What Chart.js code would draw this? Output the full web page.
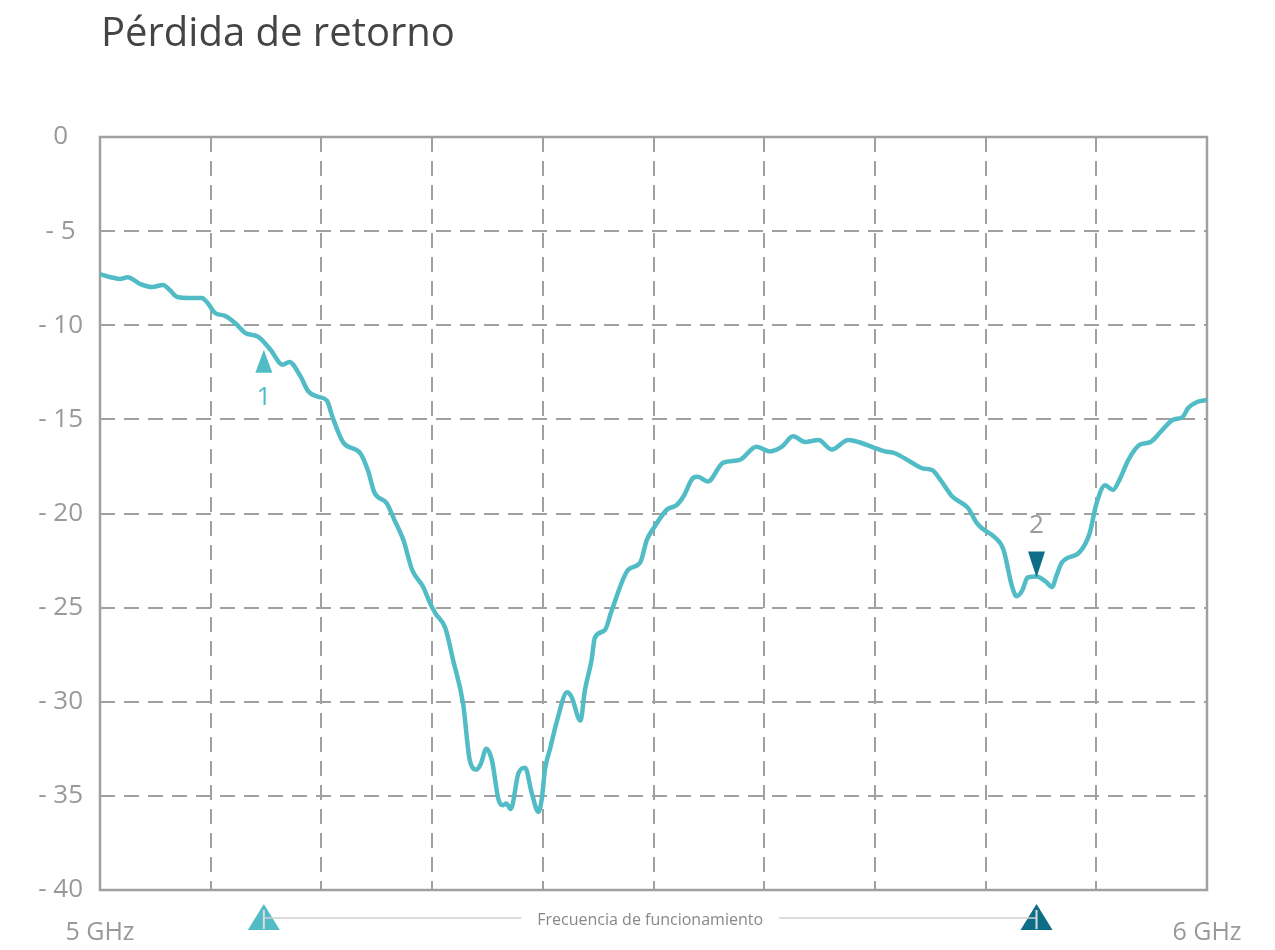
<!DOCTYPE html>
<html>
<head>
<meta charset="utf-8">
<title>Pérdida de retorno</title>
<script src="https://cdn.jsdelivr.net/npm/chart.js@4.4.0/dist/chart.umd.min.js"></script>
<style>
  html, body { margin: 0; padding: 0; background: #fff; }
  #wrap { position: relative; width: 1275px; height: 950px; }
</style>
</head>
<body>
<div id="wrap"><canvas id="chart" width="1275" height="950"></canvas></div>
<script>
// frequency in MHz, return loss in dB
const freqMHz = [
  5000, 5009, 5018, 5025, 5036, 5047, 5057, 5063, 5070, 5081, 5092, 5097, 5104, 5113, 5122,
  5131, 5143, 5154, 5165, 5171, 5181, 5188, 5197, 5205, 5210, 5220, 5235, 5242, 5248, 5259,
  5266, 5274, 5282, 5292, 5298, 5303, 5312, 5319, 5328, 5334, 5340, 5344, 5349, 5354, 5360,
  5364, 5367, 5371, 5378, 5384, 5390, 5396, 5399, 5402, 5407, 5413, 5422, 5426, 5434, 5438,
  5444, 5447, 5456, 5462, 5477, 5488, 5494, 5501, 5512, 5521, 5527, 5536, 5540, 5549, 5563,
  5578, 5593, 5605, 5616, 5626, 5637, 5649, 5661, 5676, 5685, 5699, 5709, 5718, 5732, 5743,
  5752, 5759, 5770, 5784, 5792, 5797, 5808, 5816, 5824, 5828, 5833, 5838, 5846, 5854, 5860,
  5864, 5869, 5885, 5894, 5900, 5908, 5915, 5921, 5929, 5939, 5949, 5958, 5969, 5978, 5983,
  5991, 6000
];
const returnLoss = [
  -7.28, -7.44, -7.54, -7.45, -7.8, -7.97, -7.86, -8.13, -8.5, -8.55, -8.55, -8.8, -9.35, -9.5, -9.88,
  -10.4, -10.62, -11.3, -12.1, -11.95, -12.7, -13.5, -13.8, -14.0, -14.87, -16.25, -16.79, -17.7, -18.9, -19.45,
  -20.35, -21.4, -23.0, -23.9, -24.75, -25.3, -26.1, -27.8, -30.1, -33.1, -33.6, -33.3, -32.5, -33.1, -35.2,
  -35.5, -35.4, -35.7, -33.8, -33.5, -34.85, -35.85, -35.2, -33.6, -32.4, -30.97, -29.5, -29.75, -31.0, -29.4,
  -27.8, -26.6, -26.2, -25.2, -23.0, -22.6, -21.4, -20.7, -19.8, -19.55, -19.1, -18.1, -18.05, -18.3, -17.3,
  -17.15, -16.45, -16.7, -16.45, -15.9, -16.2, -16.1, -16.6, -16.1, -16.2, -16.5, -16.7, -16.8, -17.25, -17.6,
  -17.7, -18.2, -19.1, -19.7, -20.5, -20.8, -21.25, -21.9, -23.9, -24.4, -24.1, -23.4, -23.35, -23.6, -23.9,
  -23.3, -22.6, -22.05, -21.05, -19.5, -18.5, -18.75, -18.2, -17.15, -16.36, -16.2, -15.67, -15.03, -14.87, -14.4,
  -14.08, -13.97
];

// operating band markers
const markerFreq = [5148, 5846];
const markerLevel = [-11.3, -23.4];
const markerLabels = ["1", "2"];

const xTickLabels = { 5000: "5 GHz", 6000: "6 GHz" };
const yTicks = [0, -5, -10, -15, -20, -25, -30, -35, -40];

const TITLE = "Pérdida de retorno";
const BAND_LABEL = "Frecuencia de funcionamiento";

const COLOR = {
  line: "#52bcc6",
  dark: "#0f6e87",
  grid: "#a0a0a0",
  text: "#999999",
  title: "#444444",
  band: "#cfcfcf",
};
const FONT = '"Open Sans", "Noto Sans", sans-serif';

const decorPlugin = {
  id: "decor",
  beforeDatasetsDraw(chart) {
    const { ctx, chartArea: a } = chart;
    ctx.save();
    ctx.strokeStyle = COLOR.grid;
    ctx.lineWidth = 2.5;
    ctx.strokeRect(a.left, a.top, a.right - a.left, a.bottom - a.top);
    ctx.restore();
  },
  afterDraw(chart) {
    const { ctx } = chart;
    const xs = chart.scales.x;
    const ys = chart.scales.y;
    ctx.save();

    // title
    ctx.fillStyle = COLOR.title;
    ctx.font = `40px ${FONT}`;
    ctx.textAlign = "left";
    ctx.textBaseline = "alphabetic";
    ctx.fillText(TITLE, 101, 46);

    // markers on the curve
    markerFreq.forEach((f, i) => {
      const px = xs.getPixelForValue(f);
      const py = ys.getPixelForValue(markerLevel[i]);
      const up = i === 0;
      ctx.beginPath();
      if (up) {
        ctx.moveTo(px, py);
        ctx.lineTo(px + 8.5, py + 23);
        ctx.lineTo(px - 8.5, py + 23);
      } else {
        ctx.moveTo(px, py);
        ctx.lineTo(px + 8.5, py - 26);
        ctx.lineTo(px - 8.5, py - 26);
      }
      ctx.closePath();
      ctx.fillStyle = up ? COLOR.line : COLOR.dark;
      ctx.fill();

      ctx.font = `26px ${FONT}`;
      ctx.textAlign = "center";
      ctx.textBaseline = "middle";
      ctx.fillStyle = up ? COLOR.line : COLOR.text;
      ctx.fillText(markerLabels[i], px, up ? py + 48 : py - 52);
    });

    // operating band under the axis
    const x1 = xs.getPixelForValue(markerFreq[0]);
    const x2 = xs.getPixelForValue(markerFreq[1]);
    const by = 918;
    const mid = (x1 + x2) / 2;
    ctx.font = `16px ${FONT}`;
    const tw = ctx.measureText(BAND_LABEL).width;

    [x1, x2].forEach((px, i) => {
      ctx.beginPath();
      ctx.moveTo(px, 904);
      ctx.lineTo(px + 16, 930);
      ctx.lineTo(px - 16, 930);
      ctx.closePath();
      ctx.fillStyle = i === 0 ? COLOR.line : COLOR.dark;
      ctx.fill();
    });

    ctx.strokeStyle = COLOR.band;
    ctx.lineWidth = 1.5;
    ctx.beginPath();
    ctx.moveTo(x1, by);
    ctx.lineTo(mid - tw / 2 - 16, by);
    ctx.moveTo(mid + tw / 2 + 16, by);
    ctx.lineTo(x2, by);
    ctx.stroke();

    ctx.strokeStyle = "#dddddd";
    ctx.lineWidth = 2;
    [x1, x2].forEach((px) => {
      ctx.beginPath();
      ctx.moveTo(px, 910);
      ctx.lineTo(px, 929);
      ctx.stroke();
    });

    ctx.fillStyle = "#888888";
    ctx.textAlign = "center";
    ctx.textBaseline = "middle";
    ctx.fillText(BAND_LABEL, mid, by + 2);

    ctx.restore();
  },
};

function draw() {
  const ctx = document.getElementById("chart");
  new Chart(ctx, {
    type: "line",
    data: {
      datasets: [
        {
          label: TITLE,
          data: freqMHz.map((f, i) => ({ x: f, y: returnLoss[i] })),
          borderColor: COLOR.line,
          backgroundColor: COLOR.line,
          borderWidth: 4.5,
          pointRadius: 0,
          cubicInterpolationMode: "monotone",
          fill: false,
        },
      ],
    },
    options: {
      responsive: false,
      animation: false,
      events: [],
      layout: { padding: { top: 137, right: 68, left: 0, bottom: 0 } },
      plugins: {
        legend: { display: false },
        tooltip: { enabled: false },
        title: { display: false },
      },
      scales: {
        x: {
          type: "linear",
          min: 5000,
          max: 6000,
          afterFit(scale) {
            scale.height = 60;
          },
          border: { display: false, dash: [15, 9] },
          grid: {
            color: COLOR.grid,
            lineWidth: 2,
            drawTicks: false,
          },
          ticks: {
            stepSize: 100,
            autoSkip: false,
            maxRotation: 0,
            padding: 28,
            color: COLOR.text,
            font: { family: FONT, size: 25 },
            callback: (v) => xTickLabels[v] || "",
          },
        },
        y: {
          type: "linear",
          min: -40,
          max: 0,
          afterFit(scale) {
            scale.width = 100;
          },
          afterBuildTicks(scale) {
            scale.ticks = yTicks.map((v) => ({ value: v }));
          },
          border: { display: false, dash: [15, 9] },
          grid: {
            color: COLOR.grid,
            lineWidth: 2,
            drawTicks: true,
            tickLength: 14,
            tickColor: "rgba(0,0,0,0)",
          },
          ticks: {
            crossAlign: "center",
            color: COLOR.text,
            font: { family: FONT, size: 26 },
            callback: (v) => (v === 0 ? "0" : "- " + Math.abs(v)),
          },
        },
      },
    },
    plugins: [decorPlugin],
  });
}

// make sure the local font is ready before the canvas draws text
Promise.all([
  document.fonts.load(`24px ${FONT}`),
  document.fonts.load(`40px ${FONT}`),
]).then(draw, draw);
</script>
</body>
</html>
